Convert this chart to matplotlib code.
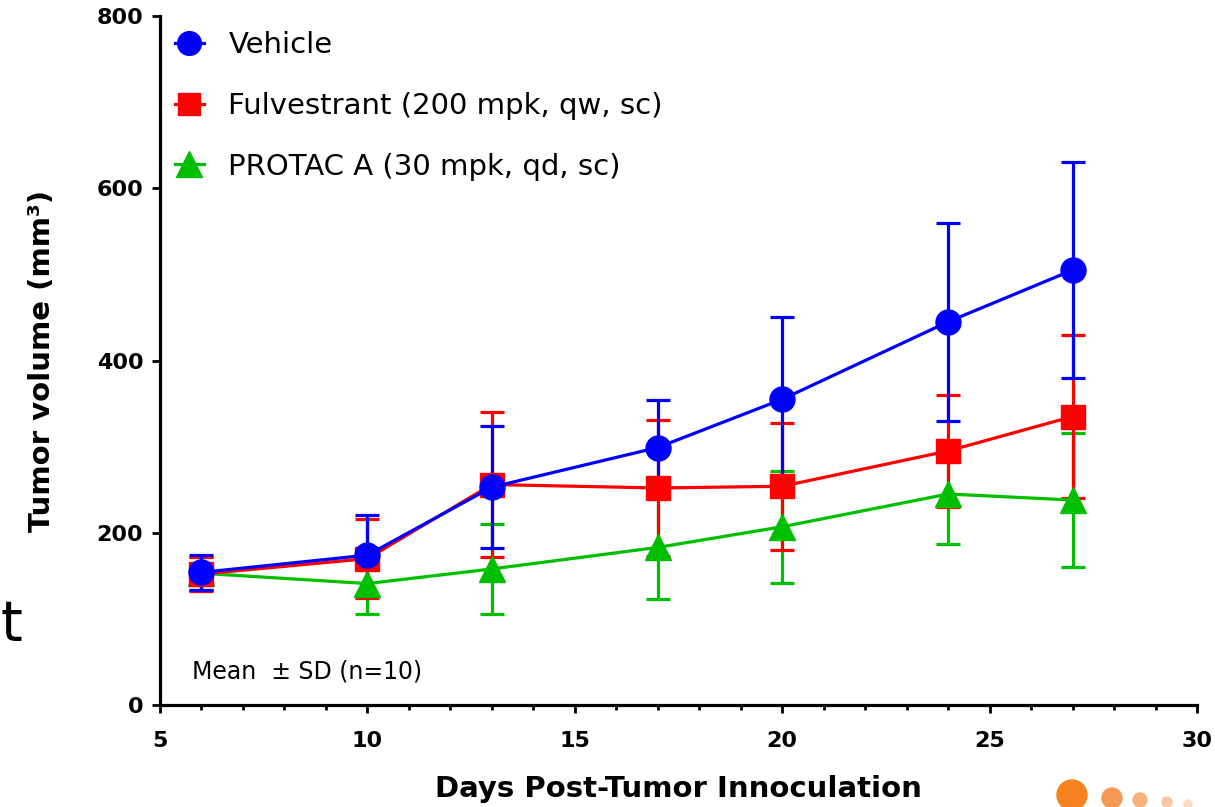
import matplotlib
matplotlib.use("Agg")
import matplotlib.pyplot as plt
from matplotlib.patches import Circle
from matplotlib.ticker import MultipleLocator

days = [6, 10, 13, 17, 20, 24, 27]

vehicle_mean = [154, 174, 253, 299, 355, 445, 505]
vehicle_sd = [20, 47, 71, 55, 95, 115, 125]

fulv_mean = [152, 170, 256, 252, 254, 295, 335]
fulv_sd = [20, 46, 84, 79, 74, 65, 95]

protac_mean = [153, 141, 158, 183, 207, 245, 238]
protac_sd = [19, 35, 52, 60, 65, 58, 78]

labels = ["Vehicle", "Fulvestrant (200 mpk, qw, sc)", "PROTAC A (30 mpk, qd, sc)"]

fig = plt.figure(figsize=(12.15, 8.07), dpi=100)
ax = fig.add_axes([0.1317, 0.1264, 0.8535, 0.8537])

# draw green first so blue ends up on top
series = [
    (protac_mean, protac_sd, "#00BF00", "^", 19, labels[2]),
    (fulv_mean, fulv_sd, "#FF0000", "s", 17, labels[1]),
    (vehicle_mean, vehicle_sd, "#0000FF", "o", 18, labels[0]),
]
handles = {}
for mean, sd, col, mk, ms, lab in series:
    cont = ax.errorbar(days, mean, yerr=sd, color=col, marker=mk, markersize=ms,
                       linewidth=2.3, elinewidth=2.3, capsize=8.5, capthick=2.3,
                       label=lab)
    handles[lab] = cont.lines[0]

leg = ax.legend([handles[l] for l in labels], labels, loc="upper left",
                bbox_to_anchor=(0.014, 0.978), frameon=False, fontsize=21,
                borderaxespad=0, borderpad=0, handlelength=1.0,
                handletextpad=0.85, labelspacing=1.12, markerscale=0.95)

ax.text(0.031, 0.048, "Mean  \u00b1 SD (n=10)", transform=ax.transAxes,
        fontsize=17, va="center", ha="left")

ax.set_xlim(5, 30)
ax.set_ylim(0, 800)
ax.xaxis.set_major_locator(MultipleLocator(5))
ax.xaxis.set_minor_locator(MultipleLocator(1))
ax.yaxis.set_major_locator(MultipleLocator(200))

for side in ["top", "right"]:
    ax.spines[side].set_visible(False)
for side in ["left", "bottom"]:
    ax.spines[side].set_linewidth(2.3)

ax.tick_params(axis="both", which="major", direction="out", length=6, width=2,
               labelsize=16)
ax.tick_params(axis="x", which="major", pad=13)
ax.tick_params(axis="x", which="minor", direction="out", length=3.5, width=2)
ax.tick_params(axis="y", which="major", pad=6)
for lab in ax.get_xticklabels() + ax.get_yticklabels():
    lab.set_fontweight("bold")

ax.set_xlabel("Days Post-Tumor Innoculation", fontsize=21, fontweight="bold",
              labelpad=17)
ax.set_ylabel("Tumor volume (mm\u00b3)", fontsize=21, fontweight="bold",
              labelpad=29)

# stray slide fragments around the chart
fig.text(0.0, 0.225, "t", fontsize=40, ha="left", va="center")
logo = [(10.72, 0.12, 0.15, "#F5821F"), (11.12, 0.09, 0.10, "#F59A55"),
        (11.40, 0.07, 0.07, "#F8B27E"), (11.67, 0.05, 0.05, "#FAC7A2"),
        (11.88, 0.03, 0.04, "#FCD9C0")]
for cx, cy, r, c in logo:
    fig.add_artist(Circle((cx, cy), r, color=c, transform=fig.dpi_scale_trans))

plt.savefig("out.png", dpi=100)
plt.close()
